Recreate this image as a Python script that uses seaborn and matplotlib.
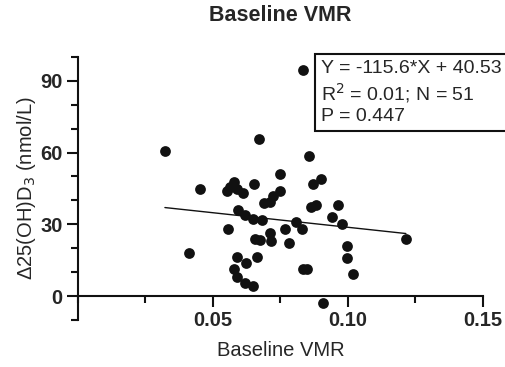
import matplotlib
matplotlib.use("Agg")
from matplotlib import pyplot as plt
from matplotlib.ticker import MultipleLocator, FormatStrFormatter
import numpy as np
import pandas as pd
import seaborn as sns

# values
baseline_vmr = [0.0834, 0.0322, 0.0671, 0.0856, 0.0452, 0.0578, 0.0553, 0.0590, 0.0610, 0.0653,
                0.0748, 0.0748, 0.0721, 0.0711, 0.0689, 0.0594, 0.0619, 0.0647, 0.0680, 0.0557,
                0.0656, 0.0674, 0.0711, 0.0717, 0.0767, 0.0781, 0.0807, 0.0829, 0.0871, 0.0899,
                0.0862, 0.0881, 0.0962, 0.0943, 0.0977, 0.0997, 0.0997, 0.1215, 0.1020, 0.0412,
                0.0590, 0.0622, 0.0662, 0.0578, 0.0588, 0.0619, 0.0647, 0.0832, 0.0849, 0.0909,
                0.0565]
delta_25ohd3 = [94.6, 60.8, 65.7, 58.7, 44.9, 47.8, 44.1, 44.7, 43.0, 46.8,
                51.1, 44.1, 41.9, 39.5, 39.1, 36.0, 33.9, 32.1, 31.8, 27.9,
                23.9, 23.4, 26.2, 23.1, 27.9, 22.3, 31.1, 27.9, 46.9, 48.8,
                37.1, 38.1, 38.1, 32.9, 30.1, 20.9, 15.8, 23.9, 9.1, 18.1,
                16.2, 13.9, 16.2, 11.2, 8.1, 5.3, 4.2, 11.2, 11.2, -2.8,
                45.5]
fit_text = ["Y = -115.6*X + 40.53", "R$^2$ = 0.01; N = 51", "P = 0.447"]

df = pd.DataFrame({'vmr': baseline_vmr, 'delta': delta_25ohd3})

sns.set_style("ticks")
plt.rcParams['font.family'] = ['Liberation Sans', 'DejaVu Sans']

fig = plt.figure(figsize=(5.05, 3.67), dpi=100)
ax = fig.add_axes([0.1545, 0.128, 0.8015, 0.717])

sns.regplot(data=df, x='vmr', y='delta', ci=None, ax=ax,
            scatter_kws={'s': 60, 'color': '#111111', 'linewidths': 0, 'alpha': 1},
            line_kws={'color': '#111111', 'linewidth': 1.0})

ax.set_xlim(0, 0.15)
ax.set_ylim(-10, 100)
ax.spines['top'].set_visible(False)
ax.spines['right'].set_visible(False)
ax.spines['bottom'].set_position(('data', 0))
for s in ['left', 'bottom']:
    ax.spines[s].set_linewidth(1.5)
    ax.spines[s].set_color('#111111')

ax.set_xticks([0.05, 0.10, 0.15])
ax.xaxis.set_minor_locator(MultipleLocator(0.025))
ax.xaxis.set_major_formatter(FormatStrFormatter('%.2f'))
ax.set_yticks([0, 30, 60, 90])
ax.yaxis.set_minor_locator(MultipleLocator(10))
ax.tick_params(which='major', length=8, width=1.5, color='#111111', labelsize=14.5, pad=3)
ax.tick_params(which='minor', length=5, width=1.5, color='#111111')
for lab in ax.get_xticklabels() + ax.get_yticklabels():
    lab.set_fontweight('bold')

ax.set_xlabel('Baseline VMR', fontsize=14.5)
ax.xaxis.set_label_coords(0.5, -0.08)
ax.set_ylabel('Δ25(OH)D$_3$ (nmol/L)', fontsize=14.5, labelpad=2)
ax.set_title('Baseline VMR', fontsize=15.5, fontweight='bold', pad=26)

ax.text(0.601, 0.99, "\n".join(fit_text), transform=ax.transAxes, fontsize=14,
        va='top', ha='left', linespacing=1.25,
        bbox=dict(boxstyle='square,pad=0.3', facecolor='white', edgecolor='#111111', linewidth=1.5))

fig.savefig('out.png', dpi=100)
